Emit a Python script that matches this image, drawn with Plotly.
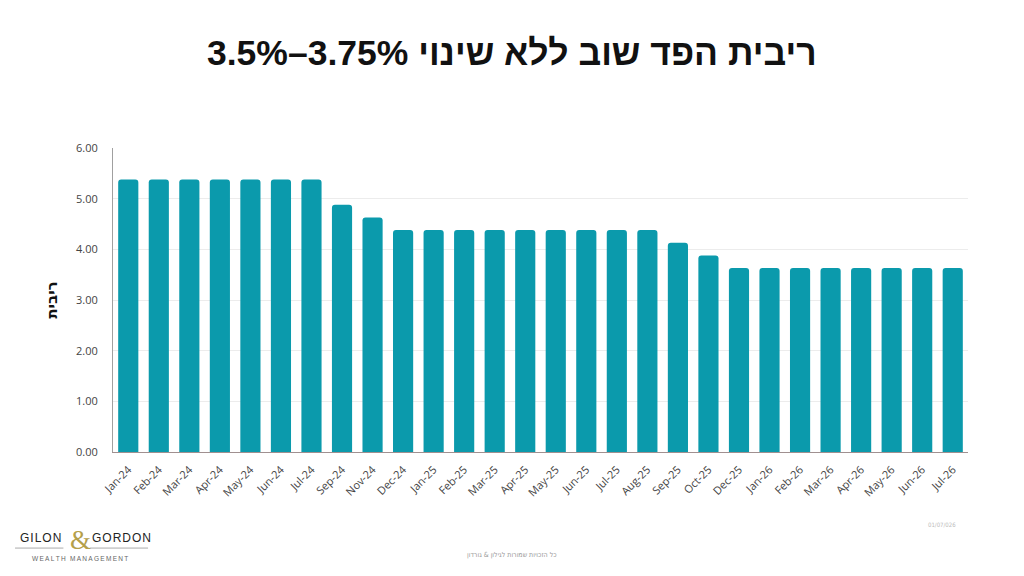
import plotly.graph_objects as go

# monthly fed rate (range midpoint)
months = ['Jan-24', 'Feb-24', 'Mar-24', 'Apr-24', 'May-24', 'Jun-24', 'Jul-24',
          'Sep-24', 'Nov-24', 'Dec-24', 'Jan-25', 'Feb-25', 'Mar-25', 'Apr-25',
          'May-25', 'Jun-25', 'Jul-25', 'Aug-25', 'Sep-25', 'Oct-25', 'Dec-25',
          'Jan-26', 'Feb-26', 'Mar-26', 'Apr-26', 'May-26', 'Jun-26', 'Jul-26']
rates = [5.38, 5.38, 5.38, 5.38, 5.38, 5.38, 5.38,
         4.88, 4.63, 4.38, 4.38, 4.38, 4.38, 4.38,
         4.38, 4.38, 4.38, 4.38, 4.13, 3.88, 3.63,
         3.63, 3.63, 3.63, 3.63, 3.63, 3.63, 3.63]
y_ticks = [0, 1, 2, 3, 4, 5, 6]

title_text = '3.5%–3.75% ריבית הפד שוב ללא שינוי'
y_title = 'ריבית'
footer_text = 'כל הזכויות שמורות לגילון & גורדון'
date_text = '01/07/026'
ts = '\u2009'  # thin space for the spaced-out small caption
hs = '\u200a'  # hair space for the logo letters

fig = go.Figure()

fig.add_trace(go.Bar(x=months, y=rates, marker_color='#0b9aac',
                     marker_line_width=0, name='ריבית'))

# page body has an 8px margin, so margins are shifted by 8
fig.update_layout(
    width=1024, height=576,
    paper_bgcolor='white', plot_bgcolor='white',
    margin=dict(l=105, r=64, t=140, b=132),
    bargap=0.34,
    barcornerradius=3,
    showlegend=False,
    font=dict(family='Open Sans, Noto Sans, sans-serif', color='#555555'),
    title=dict(text=title_text, x=0.492, xanchor='center', y=0.922, yanchor='middle',
               font=dict(family='Liberation Sans, sans-serif',
                         size=35.5, color='#111111', weight='bold')),
)

fig.update_yaxes(
    range=[0, 6], tickvals=y_ticks, tickformat='.2f',
    showgrid=True, gridcolor='#ececec', gridwidth=1,
    showline=True, linecolor='#a0a0a0', linewidth=1,
    zeroline=False, ticks='', ticklabelstandoff=12,
    tickfont=dict(size=11, color='#444444'),
    title=dict(text=y_title, standoff=14,
               font=dict(family='DejaVu Sans, sans-serif', size=15, color='#111111', weight='bold')),
)

fig.update_xaxes(
    tickangle=-45, tickfont=dict(size=11, color='#444444'), ticklabelstandoff=6,
    showline=True, linecolor='#a09090', linewidth=1, ticks='',
)

# footer: logo, copyright, date
logo_font = dict(family='Liberation Sans, sans-serif', size=12, color='#222222')
fig.add_annotation(xref='paper', yref='paper', x=-0.058, y=-0.283, xanchor='right', yanchor='middle',
                   text=hs.join('GILON'), showarrow=False, font=logo_font)
fig.add_annotation(xref='paper', yref='paper', x=-0.038, y=-0.290, xanchor='center', yanchor='middle',
                   text='&', showarrow=False,
                   font=dict(family='Liberation Serif, serif', size=27, color='#b5a04a'))
fig.add_annotation(xref='paper', yref='paper', x=-0.027, y=-0.283, xanchor='left', yanchor='middle',
                   text=hs.join('GORDON'), showarrow=False, font=logo_font)
fig.add_shape(type='line', xref='paper', yref='paper', x0=-0.1146, x1=-0.058, y0=-0.316, y1=-0.316,
              line=dict(color='#aaaaaa', width=1))
fig.add_shape(type='line', xref='paper', yref='paper', x0=-0.027, x1=0.041, y0=-0.316, y1=-0.316,
              line=dict(color='#aaaaaa', width=1))
fig.add_annotation(xref='paper', yref='paper', x=-0.039, y=-0.349, xanchor='center', yanchor='middle',
                   text=ts.join('WEALTH MANAGEMENT'), showarrow=False,
                   font=dict(family='Liberation Sans, sans-serif', size=6.5, color='#666666'))
fig.add_annotation(xref='paper', yref='paper', x=0.4667, y=-0.339, xanchor='center', yanchor='middle',
                   text=footer_text, showarrow=False,
                   font=dict(family='DejaVu Sans Condensed, sans-serif', size=7, color='#999999'))
fig.add_annotation(xref='paper', yref='paper', x=0.988, y=-0.237, xanchor='right', yanchor='middle',
                   text=date_text, showarrow=False,
                   font=dict(family='DejaVu Sans Condensed, sans-serif', size=6, color='#bbbbbb'))

fig.write_html('out.html')
